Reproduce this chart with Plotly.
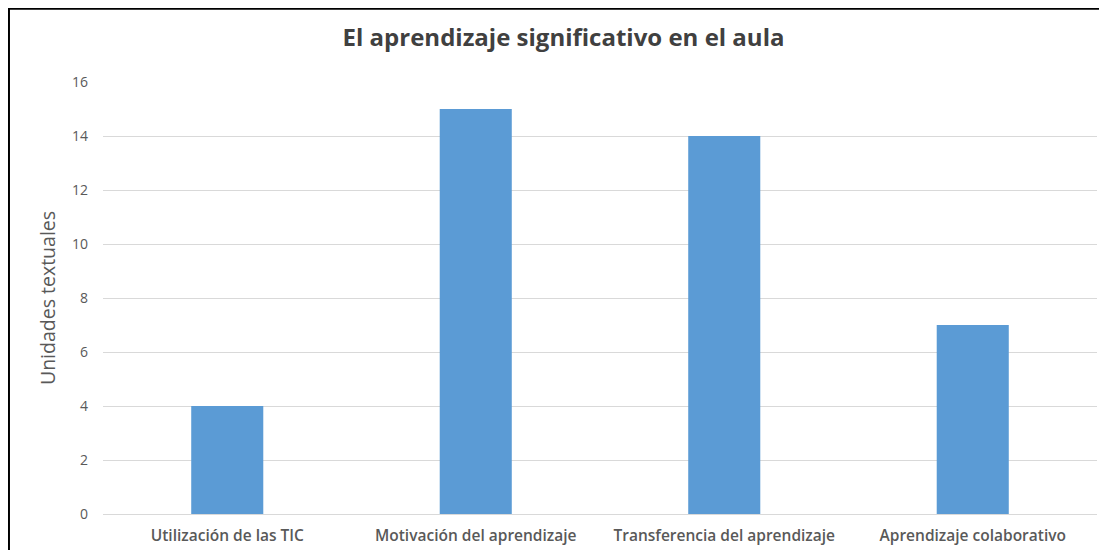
import plotly.graph_objects as go

categorias = ["Utilización de las TIC", "Motivación del aprendizaje",
              "Transferencia del aprendizaje", "Aprendizaje colaborativo"]
unidades = [4, 15, 14, 7]
ticks_y = [0, 2, 4, 6, 8, 10, 12, 14, 16]

gris = "#595959"

fig = go.Figure()
fig.add_trace(go.Bar(x=categorias, y=unidades, marker_color="#5B9BD5",
                     marker_line_width=0))

# la página añade 8 px de margen, así que la figura es algo más pequeña
fig.update_layout(
    width=1099, height=542,
    margin=dict(l=95, r=10, t=74, b=36, autoexpand=False),
    paper_bgcolor="white", plot_bgcolor="white",
    bargap=0.71,
    showlegend=False,
    font=dict(family="Open Sans", color=gris),
    title=dict(text="<b>El aprendizaje significativo en el aula</b>",
               x=0.5055, xanchor="center", y=0.9446, yanchor="middle",
               font=dict(size=24, color="#404040")),
    xaxis=dict(showgrid=False, showline=False, ticks="", automargin=False,
               tickfont=dict(size=15.5, color=gris, weight=600),
               ticklabelstandoff=10),
    yaxis=dict(range=[0, 16], tickvals=ticks_y, showgrid=True,
               automargin=False,
               gridcolor="#D9D9D9", gridwidth=1, zeroline=True,
               zerolinecolor="#D9D9D9", zerolinewidth=1,
               tickfont=dict(size=14, color=gris),
               ticklabelstandoff=14,
               title=dict(text="Unidades textuales",
                          font=dict(size=19.5, color=gris), standoff=11)),
)

# marco del gráfico
fig.add_shape(type="rect", xref="paper", yref="paper",
              x0=-0.0946, x1=1.2, y0=-0.2, y1=1.1695,
              line=dict(color="black", width=2), layer="above")

fig.write_html("out.html")
